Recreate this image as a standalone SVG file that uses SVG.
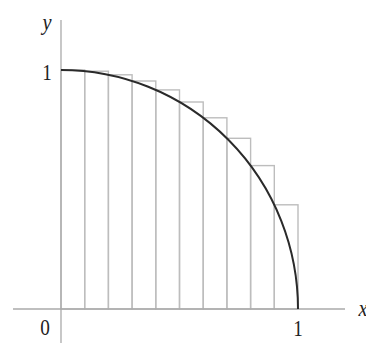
<svg xmlns="http://www.w3.org/2000/svg" width="366" height="343" viewBox="0 0 366 343">
<style>
.ax{stroke:#aaa;stroke-width:1.3;fill:none}
.r{stroke:#bdbdbd;stroke-width:1.4;fill:none}
.c{stroke:#2a2a2a;stroke-width:2;fill:none}
text{font-family:"Liberation Serif","Times New Roman",serif;font-size:24px;fill:#222;text-anchor:middle}
.i{font-style:italic}
</style>
<rect width="366" height="343" fill="#fff"/>
<g id="rects">
<rect class="r" x="61" y="70" width="23.7" height="239"/>
<rect class="r" x="84.7" y="71.2" width="23.7" height="237.8"/>
<rect class="r" x="108.4" y="74.8" width="23.7" height="234.2"/>
<rect class="r" x="132.1" y="81" width="23.7" height="228"/>
<rect class="r" x="155.8" y="89.9" width="23.7" height="219.1"/>
<rect class="r" x="179.5" y="102" width="23.7" height="207"/>
<rect class="r" x="203.2" y="117.8" width="23.7" height="191.2"/>
<rect class="r" x="226.9" y="138.3" width="23.7" height="170.7"/>
<rect class="r" x="250.6" y="165.6" width="23.7" height="143.4"/>
<rect class="r" x="274.3" y="204.8" width="23.7" height="104.2"/>
</g>
<g id="axes">
<line class="ax" x1="13" y1="309" x2="345" y2="309"/>
<line class="ax" x1="61" y1="20" x2="61" y2="343"/>
</g>
<g id="curve">
<path class="c" d="M61,70 A237,239 0 0 1 298,309"/>
</g>
<g id="labels">
<text class="i" transform="translate(47,30) scale(0.85,1)">y</text>
<text transform="translate(47,80) scale(0.8,1)">1</text>
<text transform="translate(45,335) scale(0.8,1)">0</text>
<text transform="translate(298,336) scale(0.8,1)">1</text>
<text class="i" transform="translate(363,316) scale(0.85,1)">x</text>
</g>
</svg>
